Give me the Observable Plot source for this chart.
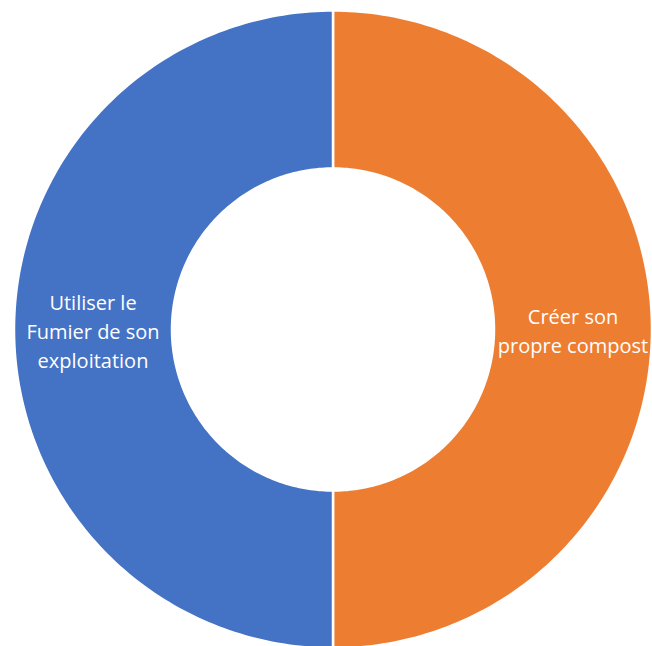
<!DOCTYPE html>
<html>
<head>
<meta charset="utf-8">
<script src="https://cdn.jsdelivr.net/npm/d3@7"></script>
<script src="https://cdn.jsdelivr.net/npm/@observablehq/plot@0.6"></script>
<style>
  html, body { margin: 0; padding: 0; background: #ffffff; }
  #chart { width: 652px; height: 646px; }
</style>
</head>
<body>
<div id="chart"></div>
<script>
// Data
const categories = ["Créer son propre compost", "Utiliser le Fumier de son exploitation"];
const labels = ["Créer son\npropre compost", "Utiliser le\nFumier de son\nexploitation"];
const values = [50, 50];
const colors = ["#ED7D31", "#4472C4"];

const outerR = 319;
const innerR = 161;

const arcs = d3.pie().sort(null).value(d => d)(values);

// Build polygon points for each slice from the pie angles
const pts = [];
arcs.forEach((a, i) => {
  const n = 180;
  const ring = [];
  for (let k = 0; k <= n; k++) {
    const t = a.startAngle + (a.endAngle - a.startAngle) * k / n;
    ring.push({x: outerR * Math.sin(t), y: outerR * Math.cos(t)});
  }
  for (let k = n; k >= 0; k--) {
    const t = a.startAngle + (a.endAngle - a.startAngle) * k / n;
    ring.push({x: innerR * Math.sin(t), y: innerR * Math.cos(t)});
  }
  ring.push(ring[0]);
  ring.forEach(p => pts.push({...p, cat: categories[i]}));
});

const labelData = arcs.map((a, i) => {
  const mid = (a.startAngle + a.endAngle) / 2;
  const r = (outerR + innerR) / 2;
  return {x: r * Math.sin(mid), y: r * Math.cos(mid), text: labels[i]};
});

const chart = Plot.plot({
  width: 652,
  height: 646,
  margin: 0,
  x: {domain: [-332.5, 319.5], range: [0, 652], axis: null},
  y: {domain: [-317, 329], range: [646, 0], axis: null},
  color: {domain: categories, range: colors},
  style: {background: "#ffffff"},
  marks: [
    Plot.line(pts, {x: "x", y: "y", z: "cat", fill: "cat", stroke: "#ffffff", strokeWidth: 2.5, curve: "linear"}),
    Plot.text(labelData, {
      x: "x", y: "y", text: "text",
      fill: "#ffffff", fontSize: 20, lineHeight: 1.45,
      fontFamily: "Open Sans", textAnchor: "middle"
    })
  ]
});
document.getElementById("chart").appendChild(chart);
</script>
</body>
</html>
